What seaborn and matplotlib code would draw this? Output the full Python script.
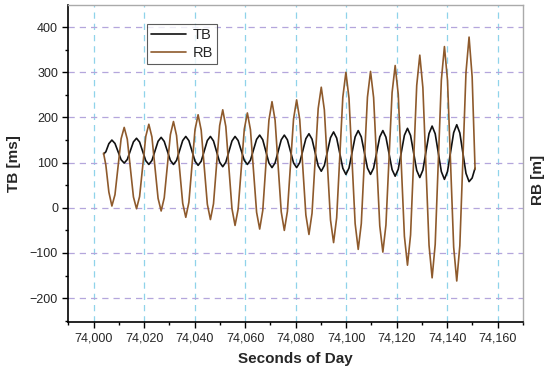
import numpy as np
import pandas as pd
import matplotlib
matplotlib.use("Agg")
import matplotlib.pyplot as plt
from matplotlib.ticker import MultipleLocator, FuncFormatter
import seaborn as sns

# seconds after 74,000 s of day (sampling points)
DAY_BASE = 74000
t_offset = [
    3.9, 4.8, 6.0,
    7.2, 8.42, 9.64, 10.86, 12.08, 13.3, 14.52, 15.74,
    16.96, 18.18, 19.4, 20.62, 21.84, 23.06, 24.28, 25.5,
    26.72, 27.94, 29.16, 30.38, 31.6, 32.82, 34.04, 35.26,
    36.48, 37.7, 38.92, 40.14, 41.36, 42.58, 43.8, 45.02,
    46.24, 47.46, 48.68, 49.9, 51.12, 52.34, 53.56, 54.78,
    56.0, 57.22, 58.44, 59.66, 60.88, 62.1, 63.32, 64.54,
    65.76, 66.98, 68.2, 69.42, 70.64, 71.86, 73.08, 74.3,
    75.52, 76.74, 77.96, 79.18, 80.4, 81.62, 82.84, 84.06,
    85.28, 86.5, 87.72, 88.94, 90.16, 91.38, 92.6, 93.82,
    95.04, 96.26, 97.48, 98.7, 99.92, 101.14, 102.36, 103.58,
    104.8, 106.02, 107.24, 108.46, 109.68, 110.9, 112.12, 113.34,
    114.56, 115.78, 117.0, 118.22, 119.44, 120.66, 121.88, 123.1,
    124.32, 125.54, 126.76, 127.98, 129.2, 130.42, 131.64, 132.86,
    134.08, 135.3, 136.52, 137.74, 138.96, 140.18, 141.4, 142.62,
    143.84, 145.06, 146.28, 147.5, 148.72, 149.94, 151.1,
]

tb_ms = [
    119, 124, 142,
    150, 142.6, 124.5, 106.4, 99, 107, 126.5, 146,
    154, 145.6, 125, 104.4, 96, 104.7, 126, 147.3,
    156, 147, 126, 105, 96, 105, 127, 149,
    158, 148.7, 126, 103.3, 94, 103, 126, 149,
    158, 148, 124.5, 101, 91, 101, 124.5, 148,
    158, 149, 127, 105, 96, 105.4, 128.5, 151.6,
    161, 150.6, 125, 99.4, 89, 99.4, 125, 150.6,
    161, 150.6, 125, 99.4, 89, 99.9, 126.5, 153.1,
    164, 152, 122.5, 93, 81, 93.6, 124.5, 155.4,
    168, 154.4, 121, 87.6, 74, 88, 122.5, 157,
    171, 157, 122.5, 88, 74, 88, 122.5, 157,
    171, 156.4, 120.5, 84.6, 70, 85.4, 123, 160.6,
    176, 160.2, 121.5, 82.8, 67, 83.5, 124, 164.5,
    181, 163.9, 122, 80.1, 63, 80.5, 123.5, 166.5,
    184, 165.7, 121, 76.3, 58, 66, 88,
]

rb_m = [
    121, 95, 35,
    4, 29, 91, 153, 178, 152, 88, 24,
    -2, 25, 91.5, 158, 185, 157, 89, 21,
    -7, 22, 92, 162, 191, 160, 85, 10,
    -21, 12, 92.5, 173, 206, 172, 90, 8,
    -26, 9, 95.5, 182, 217, 180, 89, -2,
    -39, -3, 85.5, 174, 210, 173, 81.5, -10,
    -47, -6, 94, 194, 235, 194, 92.5, -9,
    -50, -8, 94.5, 197, 239, 196, 90, -16,
    -59, -12, 104, 220, 267, 217, 95, -27,
    -77, -22, 111.5, 245, 300, 243, 104, -35,
    -92, -35, 105, 245, 302, 244, 102, -40,
    -98, -38, 108.5, 255, 315, 251, 94, -63,
    -127, -60, 105.5, 271, 338, 266, 91.5, -83,
    -155, -81, 101, 283, 357, 282, 97.5, -87,
    -162, -84, 108, 300, 378, 290, 85,
]

series_names = ["TB", "RB"]
series_colors = {"TB": "#111111", "RB": "#8E5A2C"}

seconds = [DAY_BASE + t for t in t_offset]
df = pd.concat([
    pd.DataFrame({"second": seconds, "value": tb_ms, "series": "TB"}),
    pd.DataFrame({"second": seconds, "value": rb_m, "series": "RB"}),
])

sns.set_style("white")
plt.rcParams["font.family"] = ["Liberation Sans", "DejaVu Sans"]

fig = plt.figure(figsize=(5.5, 3.74), dpi=100)
ax = fig.add_axes([0.1245, 0.14, 0.826, 0.8466])

sns.lineplot(data=df, x="second", y="value", hue="series", hue_order=series_names,
             palette=series_colors, linewidth=1.2, ax=ax, sort=False, estimator=None)

ax.set_xlim(73990, 74170)
ax.set_ylim(-252, 449)

ax.xaxis.set_major_locator(MultipleLocator(20))
ax.xaxis.set_minor_locator(MultipleLocator(10))
ax.yaxis.set_major_locator(MultipleLocator(100))
ax.yaxis.set_minor_locator(MultipleLocator(50))
ax.xaxis.set_major_formatter(FuncFormatter(lambda v, p: f"{int(round(v)):,}"))
ax.tick_params(axis="both", which="major", direction="out", length=4, width=1,
               labelsize=9, color="black", bottom=True, left=True)
ax.tick_params(axis="both", which="minor", direction="out", length=2.5, width=1,
               color="black", bottom=True, left=True)

ax.grid(False)
for xv in ax.get_xticks():
    if 73990 < xv < 74170:
        ax.axvline(xv, color="#8fd3ea", linestyle=(0, (5, 4)), linewidth=0.9, zorder=0)
for yv in ax.get_yticks():
    if -252 < yv < 449:
        ax.axhline(yv, color="#b4a6dc", linestyle=(0, (5, 4)), linewidth=0.9, zorder=0)

for side in ["left", "bottom"]:
    ax.spines[side].set_color("black")
    ax.spines[side].set_linewidth(1.2)
for side in ["top", "right"]:
    ax.spines[side].set_color("#aaaaaa")
    ax.spines[side].set_linewidth(1.0)

ax.set_xlabel("Seconds of Day", fontsize=11, fontweight="bold", labelpad=6)
ax.set_ylabel("TB [ms]", fontsize=11, fontweight="bold", labelpad=6)
fig.text(0.978, 0.52, "RB [m]", rotation=90, fontsize=11, fontweight="bold",
         ha="center", va="center")

leg = ax.legend(loc="upper left", bbox_to_anchor=(0.173, 0.94), borderaxespad=0,
                frameon=True, fancybox=False, edgecolor="#333333", fontsize=10.5,
                handlelength=2.4, borderpad=0.3, labelspacing=0.25, handletextpad=0.4)
leg.get_frame().set_linewidth(0.8)
for line in leg.get_lines():
    line.set_linewidth(1.2)

fig.savefig("out.png", dpi=100)
